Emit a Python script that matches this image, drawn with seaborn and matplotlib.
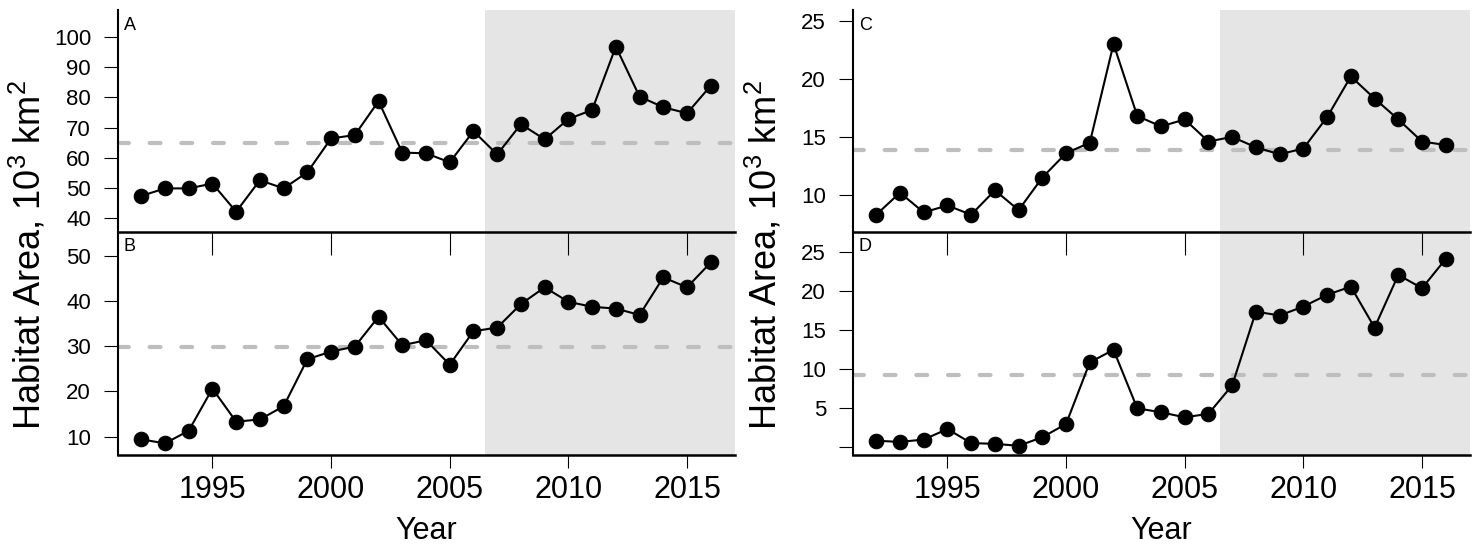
import numpy as np
import pandas as pd
import matplotlib
matplotlib.use('Agg')
import matplotlib.pyplot as plt
import seaborn as sns

# Data
years = list(range(1992, 2017))

area_a = [47.4, 49.9, 49.9, 51.5, 42.2, 52.6, 49.9, 55.2, 66.4, 67.5, 78.7, 61.7, 61.5,
          58.5, 68.8, 61.1, 71.1, 66.1, 72.8, 75.8, 96.7, 80.2, 76.7, 74.7, 83.8]
area_b = [9.4, 8.5, 11.3, 20.6, 13.3, 13.8, 16.7, 27.1, 28.8, 29.9, 36.5, 30.2, 31.3,
          25.9, 33.3, 34.1, 39.3, 43.0, 39.8, 38.7, 38.3, 36.9, 45.2, 43.0, 48.5]
area_c = [8.3, 10.2, 8.5, 9.1, 8.3, 10.4, 8.7, 11.5, 13.6, 14.5, 23.0, 16.8, 15.9,
          16.5, 14.6, 15.0, 14.1, 13.5, 14.0, 16.7, 20.2, 18.3, 16.5, 14.6, 14.3]
area_d = [0.85, 0.7, 1.0, 2.35, 0.55, 0.45, 0.2, 1.3, 3.0, 10.9, 12.5, 5.0, 4.5,
          3.85, 4.3, 7.95, 17.4, 16.9, 18.05, 19.55, 20.6, 15.35, 22.1, 20.4, 24.15]

means = {'A': 64.8, 'B': 29.7, 'C': 13.9, 'D': 9.3}
ylims = {'A': (35.6, 108.8), 'B': (6.0, 55.3), 'C': (6.84, 25.92), 'D': (-0.94, 27.64)}
yticks = {'A': [40, 50, 60, 70, 80, 90, 100], 'B': [10, 20, 30, 40, 50],
          'C': [10, 15, 20, 25], 'D': [0, 5, 10, 15, 20, 25]}
series = {'A': area_a, 'B': area_b, 'C': area_c, 'D': area_d}
recent_start = 2006.5
x_tick_years = [1995, 2000, 2005, 2010, 2015]

sns.set_style('ticks')
plt.rcParams['font.family'] = ['Liberation Sans', 'DejaVu Sans']
plt.rcParams['mathtext.default'] = 'regular'
for k in ['text.color', 'axes.labelcolor', 'xtick.color', 'ytick.color', 'axes.edgecolor']:
    plt.rcParams[k] = 'black'

fig = plt.figure(figsize=(14.76, 5.47), dpi=100)

W, H = 1476.0, 547.0
x_left = {'A': 117.5, 'B': 117.5, 'C': 852.5, 'D': 852.5}
panel_w = 617.0
top_rows = (10.0, 231.7)
bot_rows = (231.7, 454.7)

axes = {}
for key in ['A', 'B', 'C', 'D']:
    y0, y1 = top_rows if key in 'AC' else bot_rows
    ax = fig.add_axes([x_left[key] / W, 1 - y1 / H, panel_w / W, (y1 - y0) / H])
    # upper panels sit above the lower ones so their long x ticks stay visible
    ax.set_zorder(2 if key in 'AC' else 1)
    axes[key] = ax

    df = pd.DataFrame({'Year': years, 'Area': series[key]})
    ax.axvspan(recent_start, 2017, color='#E5E5E5', zorder=0, lw=0)
    ax.axhline(means[key], color='#BEBEBE', lw=3, linestyle=(0, (2.6, 5)),
               dash_capstyle='round', zorder=1)
    sns.lineplot(data=df, x='Year', y='Area', ax=ax, color='black', lw=1.5,
                 marker='o', markersize=10.5, markeredgecolor='black', zorder=3)

    ax.set_xlim(1991, 2017)
    ax.set_ylim(*ylims[key])
    ax.set_xlabel('')
    ax.set_ylabel('')
    ax.set_yticks(yticks[key])
    labels = [str(t) for t in yticks[key]]
    if key == 'D':
        labels[0] = ''
    ax.set_yticklabels(labels)
    ax.set_xticks(x_tick_years)

    for s in ['top', 'right']:
        ax.spines[s].set_visible(False)
    ax.spines['left'].set_linewidth(1.5)
    ax.spines['bottom'].set_linewidth(1.8)
    ax.tick_params(axis='y', direction='out', length=10, width=0.8, labelsize=16, pad=9)

    if key in 'AC':
        ax.tick_params(axis='x', direction='out', length=16.5, width=0.8, labelbottom=False)
    else:
        ax.tick_params(axis='x', direction='out', length=9.5, width=0.8, labelsize=22, pad=5)

    ax.text(0.01, 0.97, key, transform=ax.transAxes, ha='left', va='top', fontsize=13)

# axis titles
for cx in [(117.5 + panel_w / 2), (852.5 + panel_w / 2)]:
    fig.text(cx / W, 1 - 531 / H, 'Year', ha='center', va='center', fontsize=22)
for lx in [28, 764]:
    fig.text(lx / W, 1 - 255 / H, 'Habitat Area, 10$^3$ km$^2$', rotation=90,
             ha='center', va='center', fontsize=26)

fig.savefig('out.png', dpi=100)
